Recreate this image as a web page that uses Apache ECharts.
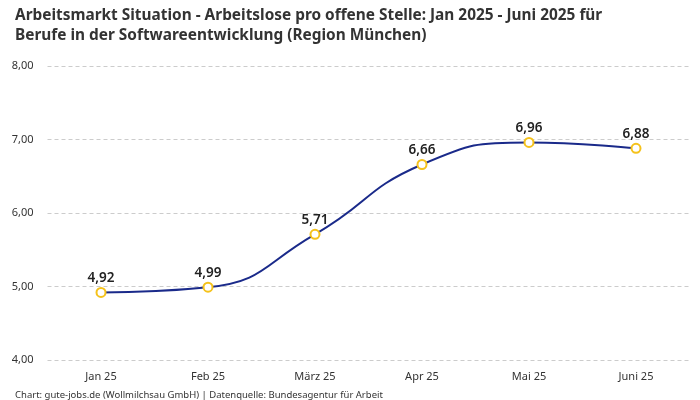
<!DOCTYPE html>
<html><head><meta charset="utf-8">
<script src="https://cdn.jsdelivr.net/npm/echarts@6/dist/echarts.min.js"></script>
<style>html,body{margin:0;padding:0;background:#fff}#c{width:700px;height:400px}</style>
</head><body><div id="c"></div>
<script>
const categories = ["Jan 25", "Feb 25", "März 25", "Apr 25", "Mai 25", "Juni 25"];
const values = [4.92, 4.99, 5.71, 6.66, 6.96, 6.88];
const fmt = v => v.toFixed(2).replace('.', ',');
const chart = echarts.init(document.getElementById('c'));
chart.setOption({
  backgroundColor: '#fff',
  textStyle: { fontFamily: 'Noto Sans' },
  title: [{
    text: 'Arbeitsmarkt Situation - Arbeitslose pro offene Stelle: Jan 2025 - Juni 2025 für\nBerufe in der Softwareentwicklung (Region München)',
    left: 10, top: 1,
    textStyle: { fontSize: 15.4, fontWeight: 'bold', color: '#333', lineHeight: 20, fontFamily: 'Noto Sans' }
  }, {
    text: 'Chart: gute-jobs.de (Wollmilchsau GmbH) | Datenquelle: Bundesagentur für Arbeit',
    left: 10, top: 385,
    textStyle: { fontSize: 9.5, fontWeight: 'normal', color: '#333', fontFamily: 'Noto Sans' }
  }],
  grid: { left: 47.5, right: 10.5, top: 66, bottom: 40 },
  xAxis: {
    type: 'category', data: categories, boundaryGap: true,
    axisLine: { show: false }, axisTick: { show: false },
    axisLabel: { color: '#333', fontSize: 11, margin: 11 }
  },
  yAxis: {
    type: 'value', min: 4, max: 8, interval: 1,
    axisLabel: { color: '#333', fontSize: 11, margin: 14, formatter: v => fmt(v) },
    splitLine: { lineStyle: { type: [4, 3], color: '#cccccc' } }
  },
  series: [{
    type: 'line', data: values, smooth: 0.5,
    lineStyle: { color: '#1a2a8a', width: 2 },
    symbol: 'circle', symbolSize: 9,
    itemStyle: { color: '#fff', borderColor: '#f5c21b', borderWidth: 2 },
    label: { show: true, position: 'top', distance: 2, formatter: p => fmt(p.value), fontSize: 13.5, fontWeight: 600, color: '#222' },
    z: 3
  }]
});
</script></body></html>
